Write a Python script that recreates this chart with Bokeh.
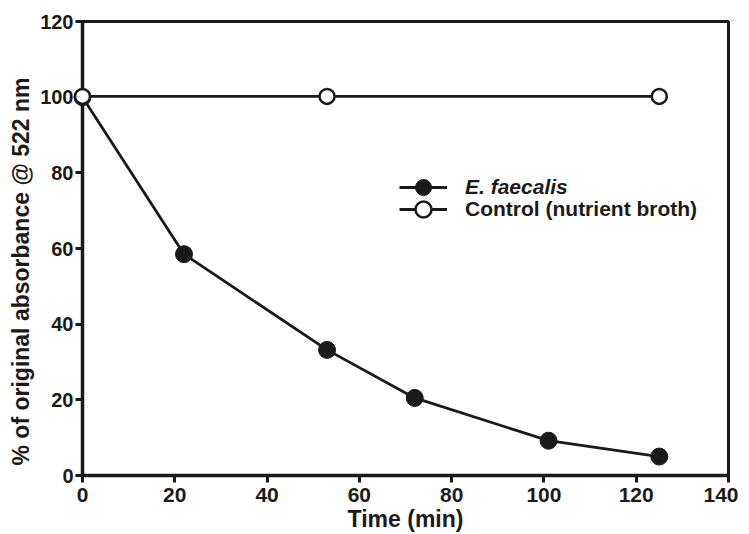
from bokeh.plotting import figure
from bokeh.models import Legend, LegendItem, Range1d, FixedTicker, Title
from bokeh.embed import file_html
from bokeh.resources import INLINE

# Data
time_ef = [0, 22, 53, 72, 101, 125]
abs_ef = [100, 58.5, 33.2, 20.5, 9.2, 5.0]
time_ctrl = [0, 53, 125]
abs_ctrl = [100.2, 100.2, 100.2]
x_ticks = [0, 20, 40, 60, 80, 100, 120, 140]
y_ticks = [0, 20, 40, 60, 80, 100, 120]
x_title = "Time (min)"
y_title = "% of original absorbance @ 522 nm"

FONT = "Liberation Sans"
INK = "#1a1a1a"

p = figure(frame_width=646, frame_height=454, output_backend="svg", toolbar_location=None,
           x_range=Range1d(0, 140), y_range=Range1d(0, 120),
           min_border_left=82, min_border_top=21, min_border_right=10, min_border_bottom=50)
p.background_fill_color = "white"
p.border_fill_color = "white"
p.grid.visible = False
p.outline_line_color = INK
p.outline_line_width = 3

for ax in (p.xaxis[0], p.yaxis[0]):
    ax.axis_line_width = 3.5
    ax.axis_line_color = INK
    ax.major_tick_line_width = 3
    ax.major_tick_line_color = INK
    ax.major_tick_out = 7
    ax.major_tick_in = 0
    ax.minor_tick_line_color = None
    ax.major_label_text_font = FONT
    ax.major_label_text_font_style = "bold"
    ax.major_label_text_color = INK
    ax.axis_label_text_font = FONT
    ax.axis_label_text_font_style = "bold"
    ax.axis_label_text_color = INK

p.xaxis.major_label_text_font_size = "21px"
p.yaxis.major_label_text_font_size = "20px"
p.xaxis.major_label_standoff = 5
p.yaxis.major_label_standoff = 2
p.xaxis.axis_label_text_font_size = "23px"

p.xaxis.ticker = FixedTicker(ticks=x_ticks)
p.yaxis.ticker = FixedTicker(ticks=y_ticks)
p.xaxis.axis_label = x_title
p.xaxis.axis_label_standoff = 1

# y-axis title: sits a little below the frame centre in the original
p.add_layout(Title(text=y_title, align="left", offset=10, standoff=8,
                   text_font=FONT, text_font_style="bold", text_font_size="23px",
                   text_color=INK), "left")

l1 = p.line(time_ef, abs_ef, line_color=INK, line_width=2.8, level="overlay")
m1 = p.scatter(time_ef, abs_ef, marker="circle", size=17, fill_color=INK, line_color=INK, level="overlay")
l2 = p.line(time_ctrl, abs_ctrl, line_color=INK, line_width=2.8, level="overlay")
m2 = p.scatter(time_ctrl, abs_ctrl, marker="circle", size=15, fill_color="white", line_color=INK,
               line_width=2.5, level="overlay")

def mk_legend(item, loc, style):
    lg = Legend(items=[item], location=loc, padding=0, margin=0,
                border_line_alpha=0, background_fill_alpha=0,
                glyph_width=48, glyph_height=40, label_height=40,
                label_standoff=18, label_text_font=FONT,
                label_text_font_style=style, label_text_font_size="21px",
                label_text_color=INK)
    p.add_layout(lg, "center")

mk_legend(LegendItem(label="E. faecalis", renderers=[l1, m1]), (317, 268), "bold italic")
mk_legend(LegendItem(label="Control (nutrient broth)", renderers=[l2, m2]), (317, 246), "bold")

open("out.html", "w").write(file_html(p, INLINE))
